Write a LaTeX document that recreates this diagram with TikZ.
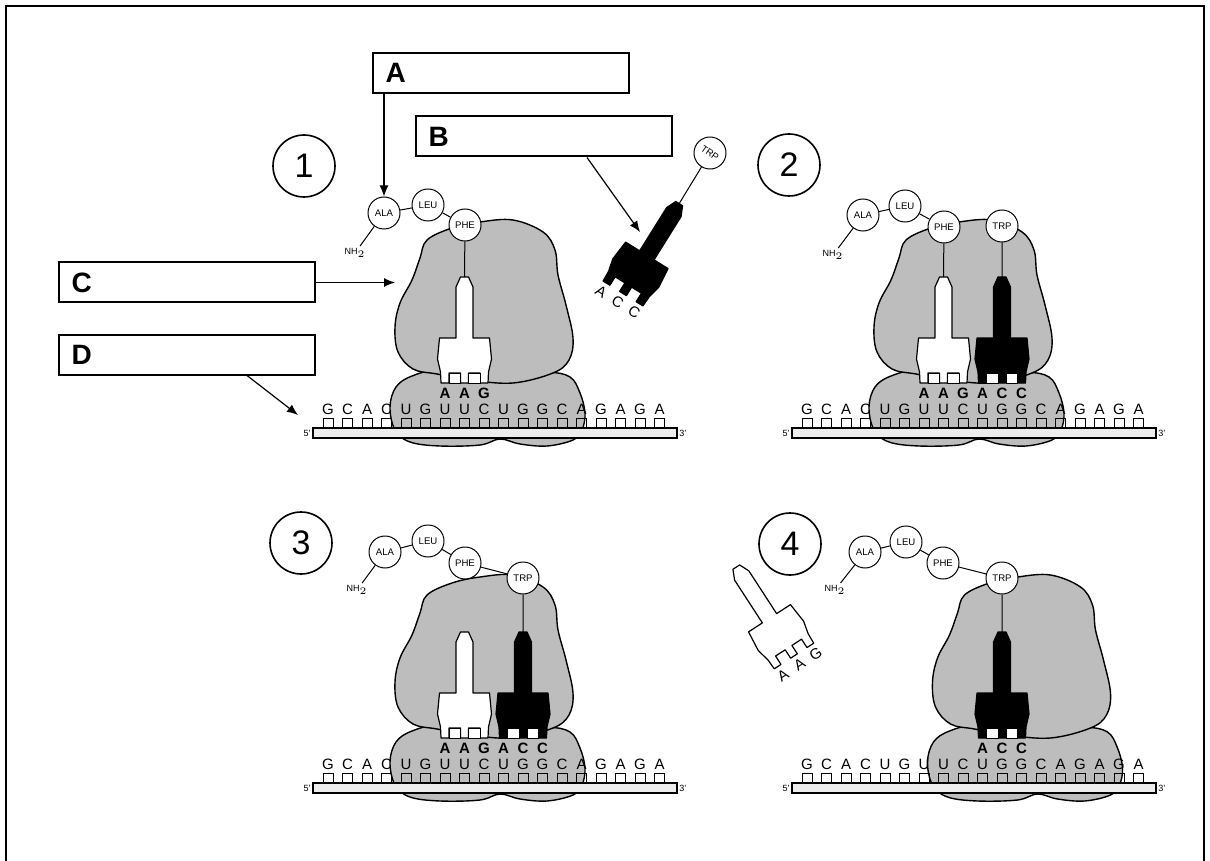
\documentclass[tikz,border=0pt]{standalone}
\usepackage{fontspec}
\setmainfont{Liberation Sans}
\usetikzlibrary{arrows.meta,positioning}

\definecolor{ribo}{gray}{0.74}
\definecolor{strand}{gray}{0.93}

\tikzset{
  frame/.style={line width=1pt},
  lbl/.style={draw, line width=1pt, minimum width=128pt, minimum height=20pt,
    text width=115pt, inner xsep=6.5pt, align=left,
    font=\fontsize{14}{14}\bfseries\selectfont},
  num/.style={draw, circle, line width=0.8pt, minimum size=31pt,
    font=\fontsize{17}{17}\selectfont},
  aa/.style={draw, circle, fill=white, line width=0.5pt, minimum size=16pt,
    inner sep=0pt, font=\fontsize{4.8}{5}\selectfont},
  nh/.style={font=\fontsize{4.5}{5}\selectfont, inner sep=1pt},
  base/.style={font=\fontsize{7.5}{8}\selectfont, inner sep=0pt},
  anti/.style={font=\fontsize{7.5}{8}\bfseries\selectfont, inner sep=0pt},
  freeanti/.style={font=\fontsize{7.5}{8}\selectfont, inner sep=0pt},
  prime/.style={font=\fontsize{4.5}{5}\selectfont, inner sep=1pt},
  arr/.style={-{Latex[length=5.5pt,width=4.5pt]}, line width=0.6pt},
  subunit/.style={draw, fill=ribo, line width=0.7pt},
  trnabody/.style={draw, line width=0.6pt, line join=round},
  link/.style={line width=0.5pt},
}

% ribosome: small subunit first, large subunit on top
\newcommand{\ribosome}[1]{%
  \begin{scope}[shift={(#1)}]
    \draw[subunit] plot[smooth cycle, tension=0.6] coordinates {
      (390,407) (396,387) (412,376) (440,370) (500,372) (547,372) (570,377)
      (580,393) (585,413) (582,430) (573,440) (547,446) (520,444) (500,439)
      (480,445) (440,446) (410,442) (395,430)};
    \draw[subunit] plot[smooth cycle, tension=0.6] coordinates {
      (427,240) (452,228) (480,222) (513,220) (543,232) (555,250) (558,275)
      (566,305) (573,338) (569,360) (553,373) (513,383) (470,380) (437,374)
      (413,369) (398,352) (395,327) (400,303) (412,280) (420,258)};
  \end{scope}}

% mRNA strand with its 18 bases
\newcommand{\mrna}[2]{%
  \begin{scope}[shift={(#1)}]
    \draw[fill=strand, line width=0.6pt] (313,428) rectangle (677,438);
    \node[prime, left] (#2-5) at (313,433) {5'};
    \node[prime, right] (#2-3) at (677,433) {3'};
    \foreach \b [count=\i from 0] in {G,C,A,C,U,G,U,U,C,U,G,G,C,A,G,A,G,A} {
      \draw[line width=0.5pt] ({328+19.5*\i-5},418) rectangle ++(10,10);
      \node[base] (#2-b\i) at ({328+19.5*\i},409) {\b};
    }
  \end{scope}}

% tRNA: foot position, angle, fill, name, anticodon, letter style
\newcommand{\trna}[6]{%
  \begin{scope}[shift={(#1)}, rotate=#2]
    \draw[trnabody, fill=#3] (-23.5,0) -- (-15.5,0) -- (-15.5,-10) -- (-4,-10)
      -- (-4,0) -- (4,0) -- (4,-10) -- (15.5,-10) -- (15.5,0) -- (23.5,0)
      -- (24,-11) -- (27,-24) -- (25,-45) -- (8.5,-45) -- (8.5,-96)
      -- (4,-106) -- (-4,-106) -- (-8.5,-96) -- (-8.5,-45) -- (-25,-45)
      -- (-27,-24) -- (-24,-11) -- cycle;
    \coordinate (#4-top) at (0,-106);
    \foreach \l [count=\k from -1] in {#5}
      \node[#6, rotate=#2] (#4-l\k) at (19.5*\k,10) {\l};
  \end{scope}}

% gaps between the prongs of a seated tRNA
\newcommand{\notches}[1]{%
  \begin{scope}[shift={(#1)}]
    \draw[fill=white, line width=0.5pt] (-15.5,0) rectangle (-4,-10);
    \draw[fill=white, line width=0.5pt] (4,0) rectangle (15.5,-10);
  \end{scope}}

\begin{document}
\begin{tikzpicture}[x=0.5pt, y=-0.5pt]
  \useasboundingbox (0,0) rectangle (1210,861);

  % Outer frame
  \draw[frame] (6,880) -- (6,6) -- (1204,6) -- (1204,880);

  % Ribosomes and messenger strands
  \ribosome{0,0}
  \ribosome{479,0}
  \ribosome{0,355}
  \ribosome{537.5,355}
  \mrna{0,0}{m1}
  \mrna{479,0}{m2}
  \mrna{0,355}{m3}
  \mrna{479,355}{m4}

  % tRNAs
  \trna{464.5,383}{0}{white}{w1}{A,A,G}{anti} \notches{464.5,383}
  \trna{623,293.5}{-32}{black}{kB}{A,C,C}{freeanti}
  \trna{943.5,383}{0}{white}{w2}{A,A,G}{anti} \notches{943.5,383}
  \trna{1002,383}{0}{black}{k2}{A,C,C}{anti} \notches{1002,383}
  \trna{464.5,738}{0}{white}{w3}{A,A,G}{anti} \notches{464.5,738}
  \trna{523,738}{0}{black}{k3}{A,C,C}{anti} \notches{523,738}
  \trna{1002,738}{0}{black}{k4}{A,C,C}{anti} \notches{1002,738}
  \trna{794,656}{33}{white}{w4}{A,A,G}{freeanti}

  % Step numbers
  \node[num] (n1) at (304,166) {1};
  \node[num] (n2) at (789,165) {2};
  \node[num] (n3) at (301,543) {3};
  \node[num] (n4) at (790,544) {4};

  % Step 1
  \node[aa] (ala1) at (384,213) {ALA};
  \node[aa] (leu1) at (428,205) {LEU};
  \node[aa] (phe1) at (465,225) {PHE};
  \node[nh] (nh1) at (355,253) {NH$_2$};
  \draw[link] (nh1) -- (ala1) (ala1) -- (leu1) (leu1) -- (phe1) (phe1) -- (w1-top);
  \node[aa, rotate=-35] (trpB) at (710,153) {TRP};
  \draw[link] (trpB) -- (kB-top);

  % Step 2
  \node[aa] (ala2) at (863,215) {ALA};
  \node[aa] (leu2) at (905,206) {LEU};
  \node[aa] (phe2) at (944,227) {PHE};
  \node[aa] (trp2) at (1002,226) {TRP};
  \node[nh] (nh2) at (833,255) {NH$_2$};
  \draw[link] (nh2) -- (ala2) (ala2) -- (leu2) (leu2) -- (phe2) (phe2) -- (w2-top)
    (trp2) -- (k2-top);

  % Step 3
  \node[aa] (ala3) at (385,552) {ALA};
  \node[aa] (leu3) at (428,541) {LEU};
  \node[aa] (phe3) at (465,563) {PHE};
  \node[aa] (trp3) at (523,578) {TRP};
  \node[nh] (nh3) at (357,590) {NH$_2$};
  \draw[link] (nh3) -- (ala3) (ala3) -- (leu3) (leu3) -- (phe3) (phe3) -- (trp3)
    (trp3) -- (k3-top);

  % Step 4
  \node[aa] (ala4) at (865,552) {ALA};
  \node[aa] (leu4) at (906,542) {LEU};
  \node[aa] (phe4) at (943,563) {PHE};
  \node[aa] (trp4) at (1002,578) {TRP};
  \node[nh] (nh4) at (835,590) {NH$_2$};
  \draw[link] (nh4) -- (ala4) (ala4) -- (leu4) (leu4) -- (phe4) (phe4) -- (trp4)
    (trp4) -- (k4-top);

  % Label boxes
  \node[lbl] (boxA) at (500.5,73) {A};
  \node[lbl] (boxB) at (543.5,136.5) {B};
  \node[lbl] (boxC) at (186.5,282.5) {C};
  \node[lbl] (boxD) at (186.5,354.5) {D};

  % Pointers
  \coordinate (tipB) at (640,232);
  \coordinate (tipC) at (395,282.5);
  \coordinate (tipD) at (298,415);
  \draw[arr] (boxA.south -| ala1) -- (ala1);
  \draw[arr] ([xshift=21.75pt]boxB.south) -- (tipB);
  \draw[arr] (boxC.east) -- (tipC);
  \draw[arr] ([xshift=30.25pt]boxD.south) -- (tipD);

\end{tikzpicture}
\end{document}
